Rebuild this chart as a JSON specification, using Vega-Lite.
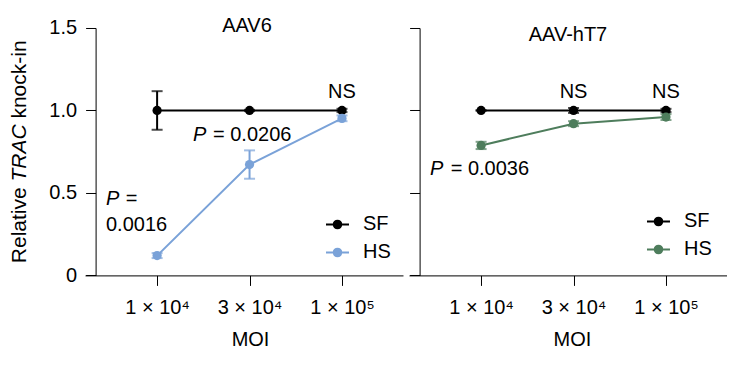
{
  "$schema": "https://vega.github.io/schema/vega-lite/v6.json",
  "background": "white",
  "padding": {"left": 9, "top": 16, "right": 0, "bottom": 0},
  "spacing": 6,
  "config": {
    "font": "Liberation Sans",
    "view": {"stroke": null},
    "axis": {
      "domainColor": "#000000", "tickColor": "#000000", "labelColor": "#000000", "titleColor": "#000000",
      "labelFontSize": 20, "titleFontSize": 20, "titleFontWeight": "normal", "tickSize": 10,
      "grid": false, "domainWidth": 1, "tickWidth": 1, "labelFont": "Liberation Sans", "titleFont": "Liberation Sans"
    },
    "legend": {
      "orient": "bottom-right", "labelFontSize": 20, "labelColor": "#000000", "labelFont": "Liberation Sans",
      "symbolType": "M-1,0H1M-0.087,0A0.087,0.087,0,1,0,0.087,0A0.087,0.087,0,1,0,-0.087,0M-0.24,0A0.24,0.24,0,1,0,0.24,0A0.24,0.24,0,1,0,-0.24,0M-0.33,0A0.33,0.33,0,1,0,0.33,0A0.33,0.33,0,1,0,-0.33,0",
      "symbolSize": 529, "symbolStrokeWidth": 2, "symbolOpacity": 1, "labelOffset": 13, "rowPadding": 5, "padding": 0
    },
    "title": {"fontSize": 20, "fontWeight": "normal", "color": "#000000", "frame": "group", "baseline": "alphabetic", "offset": -18, "font": "Liberation Sans"},
    "text": {"fontSize": 20, "font": "Liberation Sans", "color": "#000000"}
  },
  "resolve": {"scale": {"color": "independent"}, "legend": {"color": "independent"}},
  "datasets": {
    "aav6": [
      {"pos": 1, "series": "SF", "mean": 1.0, "lo": 0.883, "hi": 1.117},
      {"pos": 2, "series": "SF", "mean": 1.0, "lo": 0.996, "hi": 1.004},
      {"pos": 3, "series": "SF", "mean": 1.0, "lo": 0.99, "hi": 1.01},
      {"pos": 1, "series": "HS", "mean": 0.12, "lo": 0.105, "hi": 0.135},
      {"pos": 2, "series": "HS", "mean": 0.672, "lo": 0.586, "hi": 0.758},
      {"pos": 3, "series": "HS", "mean": 0.952, "lo": 0.935, "hi": 0.97}
    ],
    "ht7": [
      {"pos": 1, "series": "SF", "mean": 1.0, "lo": 1.0, "hi": 1.0},
      {"pos": 2, "series": "SF", "mean": 1.0, "lo": 0.985, "hi": 1.015},
      {"pos": 3, "series": "SF", "mean": 1.0, "lo": 0.99, "hi": 1.01},
      {"pos": 1, "series": "HS", "mean": 0.788, "lo": 0.766, "hi": 0.81},
      {"pos": 2, "series": "HS", "mean": 0.92, "lo": 0.905, "hi": 0.935},
      {"pos": 3, "series": "HS", "mean": 0.96, "lo": 0.942, "hi": 0.978}
    ],
    "ns6": [{"x": 3, "y": 1.077, "text": "NS"}],
    "txt6": [
      {"x": 1.605, "y": 0.816, "text": "= 0.0206"},
      {"x": 0.66, "y": 0.424, "text": "="},
      {"x": 0.447, "y": 0.271, "text": "0.0016"}
    ],
    "p6": [
      {"x": 1.388, "y": 0.816, "text": "P"},
      {"x": 0.447, "y": 0.424, "text": "P"}
    ],
    "ytitle": [
      {"x": -0.418, "y": 0.074, "text": "Relative"},
      {"x": -0.418, "y": 0.951, "text": "knock-in"}
    ],
    "ytitleItalic": [
      {"x": -0.418, "y": 0.569, "text": "TRAC"}
    ],
    "ns7": [{"x": 2, "y": 1.077, "text": "NS"}, {"x": 3, "y": 1.077, "text": "NS"}],
    "txt7": [{"x": 0.671, "y": 0.61, "text": "= 0.0036"}],
    "p7": [{"x": 0.447, "y": 0.61, "text": "P"}]
  },
  "hconcat": [
    {
      "width": 318,
      "height": 247.4,
      "title": {"text": "AAV6", "dx": 3},
      "encoding": {
        "x": {"type": "quantitative", "scale": {"domain": [0.22, 3.66], "nice": false, "zero": false},
          "axis": {"title": "MOI", "values": [1, 2, 3], "labelExpr": "datum.value == 1 ? '1 × 10⁴' : datum.value == 2 ? '3 × 10⁴' : '1 × 10⁵'", "labelPadding": 12, "titlePadding": 12, "titleX": 165, "labelFlush": false}},
        "y": {"type": "quantitative", "scale": {"domain": [0, 1.5], "nice": false, "zero": false},
          "axis": {"title": null, "values": [0, 0.5, 1, 1.5], "labelExpr": "datum.value == 0 ? '0' : format(datum.value, '.1f')", "offset": -10.6, "labelPadding": 9}},
        "color": {"field": "series", "type": "nominal", "scale": {"domain": ["SF", "HS"], "range": ["#000000", "#7aa2d8"]}, "legend": {"title": null, "offset": 12}}
      },
      "layer": [
        {
          "data": {"name": "aav6"},
          "mark": {"type": "rule", "strokeWidth": 2},
          "encoding": {"x": {"field": "pos"}, "y": {"field": "lo"}, "y2": {"field": "hi"}}
        },
        {
          "data": {"name": "aav6"},
          "mark": {"type": "tick", "orient": "horizontal", "size": 11, "thickness": 2},
          "encoding": {"x": {"field": "pos"}, "y": {"field": "lo"}}
        },
        {
          "data": {"name": "aav6"},
          "mark": {"type": "tick", "orient": "horizontal", "size": 11, "thickness": 2},
          "encoding": {"x": {"field": "pos"}, "y": {"field": "hi"}}
        },
        {
          "data": {"name": "aav6"},
          "mark": {"type": "line", "strokeWidth": 2},
          "encoding": {"x": {"field": "pos"}, "y": {"field": "mean"}}
        },
        {
          "data": {"name": "aav6"},
          "mark": {"type": "circle", "size": 85, "opacity": 1},
          "encoding": {"x": {"field": "pos"}, "y": {"field": "mean"}}
        },
        {
          "data": {"name": "ns6"},
          "mark": {"type": "text", "align": "center", "baseline": "alphabetic"},
          "encoding": {"x": {"field": "x"}, "y": {"field": "y"}, "text": {"field": "text"}, "color": {"value": "#000000"}}
        },
        {
          "data": {"name": "txt6"},
          "mark": {"type": "text", "align": "left", "baseline": "alphabetic"},
          "encoding": {"x": {"field": "x"}, "y": {"field": "y"}, "text": {"field": "text"}, "color": {"value": "#000000"}}
        },
        {
          "data": {"name": "p6"},
          "mark": {"type": "text", "align": "left", "baseline": "alphabetic", "fontStyle": "italic"},
          "encoding": {"x": {"field": "x"}, "y": {"field": "y"}, "text": {"field": "text"}, "color": {"value": "#000000"}}
        },
        {
          "data": {"name": "ytitle"},
          "mark": {"type": "text", "align": "left", "baseline": "alphabetic", "angle": 270, "fontSize": 21},
          "encoding": {"x": {"field": "x"}, "y": {"field": "y"}, "text": {"field": "text"}, "color": {"value": "#000000"}}
        },
        {
          "data": {"name": "ytitleItalic"},
          "mark": {"type": "text", "align": "left", "baseline": "alphabetic", "angle": 270, "fontSize": 21, "fontStyle": "italic"},
          "encoding": {"x": {"field": "x"}, "y": {"field": "y"}, "text": {"field": "text"}, "color": {"value": "#000000"}}
        }
      ]
    },
    {
      "width": 318,
      "height": 247.4,
      "title": {"text": "AAV-hT7"},
      "encoding": {
        "x": {"type": "quantitative", "scale": {"domain": [0.22, 3.66], "nice": false, "zero": false},
          "axis": {"title": "MOI", "values": [1, 2, 3], "labelExpr": "datum.value == 1 ? '1 × 10⁴' : datum.value == 2 ? '3 × 10⁴' : '1 × 10⁵'", "labelPadding": 12, "titlePadding": 12, "titleX": 163, "labelFlush": false}},
        "y": {"type": "quantitative", "scale": {"domain": [0, 1.5], "nice": false, "zero": false},
          "axis": {"title": null, "values": [0, 0.5, 1, 1.5], "labels": false, "offset": -10.6}},
        "color": {"field": "series", "type": "nominal", "scale": {"domain": ["SF", "HS"], "range": ["#000000", "#4e7d5c"]}, "legend": {"title": null, "offset": 15}}
      },
      "layer": [
        {
          "data": {"name": "ht7"},
          "mark": {"type": "rule", "strokeWidth": 2},
          "encoding": {"x": {"field": "pos"}, "y": {"field": "lo"}, "y2": {"field": "hi"}}
        },
        {
          "data": {"name": "ht7"},
          "mark": {"type": "tick", "orient": "horizontal", "size": 11, "thickness": 2},
          "encoding": {"x": {"field": "pos"}, "y": {"field": "lo"}}
        },
        {
          "data": {"name": "ht7"},
          "mark": {"type": "tick", "orient": "horizontal", "size": 11, "thickness": 2},
          "encoding": {"x": {"field": "pos"}, "y": {"field": "hi"}}
        },
        {
          "data": {"name": "ht7"},
          "mark": {"type": "line", "strokeWidth": 2},
          "encoding": {"x": {"field": "pos"}, "y": {"field": "mean"}}
        },
        {
          "data": {"name": "ht7"},
          "mark": {"type": "circle", "size": 85, "opacity": 1},
          "encoding": {"x": {"field": "pos"}, "y": {"field": "mean"}}
        },
        {
          "data": {"name": "ns7"},
          "mark": {"type": "text", "align": "center", "baseline": "alphabetic"},
          "encoding": {"x": {"field": "x"}, "y": {"field": "y"}, "text": {"field": "text"}, "color": {"value": "#000000"}}
        },
        {
          "data": {"name": "txt7"},
          "mark": {"type": "text", "align": "left", "baseline": "alphabetic"},
          "encoding": {"x": {"field": "x"}, "y": {"field": "y"}, "text": {"field": "text"}, "color": {"value": "#000000"}}
        },
        {
          "data": {"name": "p7"},
          "mark": {"type": "text", "align": "left", "baseline": "alphabetic", "fontStyle": "italic"},
          "encoding": {"x": {"field": "x"}, "y": {"field": "y"}, "text": {"field": "text"}, "color": {"value": "#000000"}}
        }
      ]
    }
  ]
}
